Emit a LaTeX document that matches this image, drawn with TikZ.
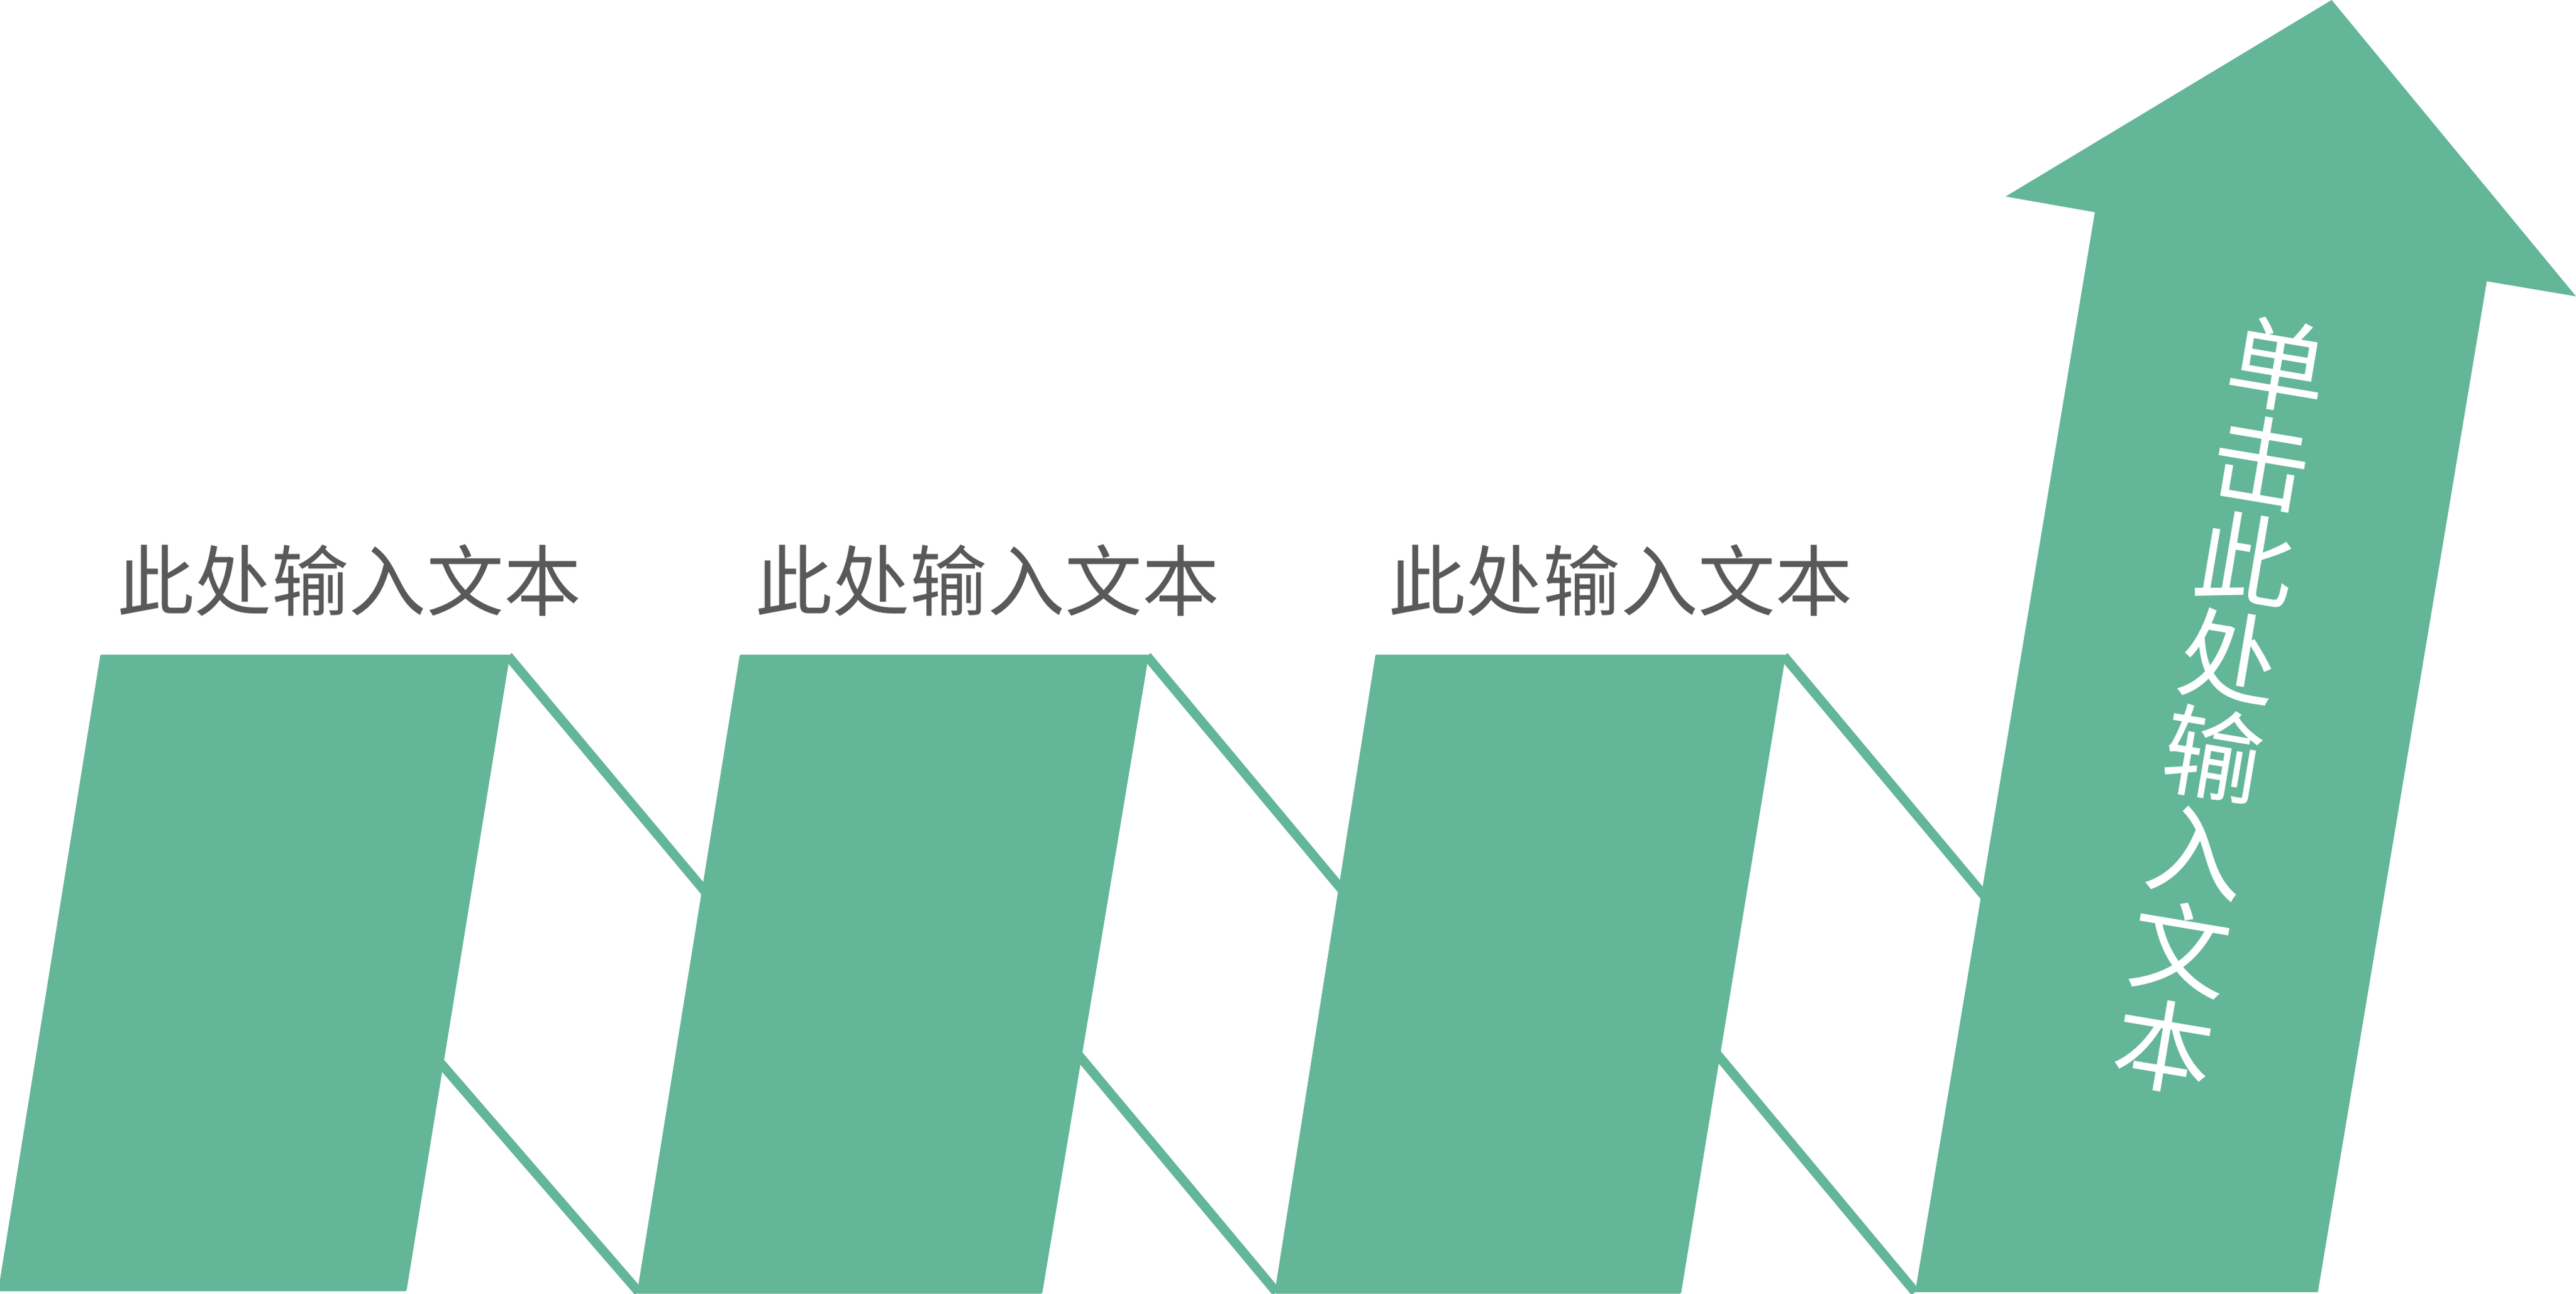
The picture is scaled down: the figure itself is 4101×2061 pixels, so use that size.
\documentclass[tikz,border=0pt]{standalone}
\usepackage{fontspec}
\newfontfamily\cjk{Noto Sans CJK SC}
\usetikzlibrary{calc}
\definecolor{teal1}{HTML}{64B698}
\definecolor{txtgray}{HTML}{595959}
\begin{document}
\begin{tikzpicture}[x=0.01cm,y=-0.01cm,
  panel/.style={fill=teal1,draw=teal1,line width=0.05cm,line join=round},
  link/.style={draw=teal1,line width=0.15cm},
  lbl/.style={text=txtgray,font={\cjk\fontsize{35pt}{42pt}\selectfont},inner sep=0pt},
  vlbl/.style={text=white,align=center,rotate=-9.5,inner sep=0pt,
    font={\cjk\fontsize{45pt}{44.7pt}\selectfont}}]
\useasboundingbox (0,0) rectangle (4101,2061);
% panel corners
\coordinate (p1tl) at (162,1045); \coordinate (p1tr) at (809,1045);
\coordinate (p1br) at (645,2054); \coordinate (p1bl) at (0,2054);
\coordinate (p2tl) at (1180,1045); \coordinate (p2tr) at (1826,1045);
\coordinate (p2br) at (1657,2058); \coordinate (p2bl) at (1017,2058);
\coordinate (p3tl) at (2192,1045); \coordinate (p3tr) at (2840,1045);
\coordinate (p3br) at (2674,2058); \coordinate (p3bl) at (2032,2058);
% arrow corners
\coordinate (atop) at (3712,0); \coordinate (art) at (4101,472);
\coordinate (asr) at (3959,448); \coordinate (abr) at (3690,2058);
\coordinate (abl) at (3049,2058); \coordinate (asl) at (3335,338);
\coordinate (alt) at (3193,313);
% hidden meeting points of the links
\coordinate (u12) at (1120,1417); \coordinate (l12) at (703,1695);
\coordinate (u23) at (2133,1413); \coordinate (l23) at (1720,1684);
\coordinate (u34) at (3155,1422); \coordinate (l34) at (2736,1682);
% links
\draw[link] (p1tr) -- ($(p1tr)!1.12!(u12)$);
\draw[link] ($(p2bl)!1.12!(l12)$) -- (p2bl);
\draw[link] (p2tr) -- ($(p2tr)!1.12!(u23)$);
\draw[link] ($(p3bl)!1.12!(l23)$) -- (p3bl);
\draw[link] (p3tr) -- ($(p3tr)!1.12!(u34)$);
\draw[link] ($(abl)!1.12!(l34)$) -- (abl);
% panels
\path[panel] (p1tl) -- (p1tr) -- (p1br) -- (p1bl) -- cycle;
\path[panel] (p2tl) -- (p2tr) -- (p2br) -- (p2bl) -- cycle;
\path[panel] (p3tl) -- (p3tr) -- (p3br) -- (p3bl) -- cycle;
\fill[teal1] (atop) -- (art) -- (asr) -- (abr) -- (abl) -- (asl) -- (alt) -- cycle;
% labels
\node[lbl] (t1) at (556,924) {此处输入文本};
\node[lbl] (t2) at (1572,924) {此处输入文本};
\node[lbl] (t3) at (2580,924) {此处输入文本};
\node[vlbl] (t4) at (3536,1124) {单\\击\\此\\处\\输\\入\\文\\本};
\end{tikzpicture}
\end{document}
